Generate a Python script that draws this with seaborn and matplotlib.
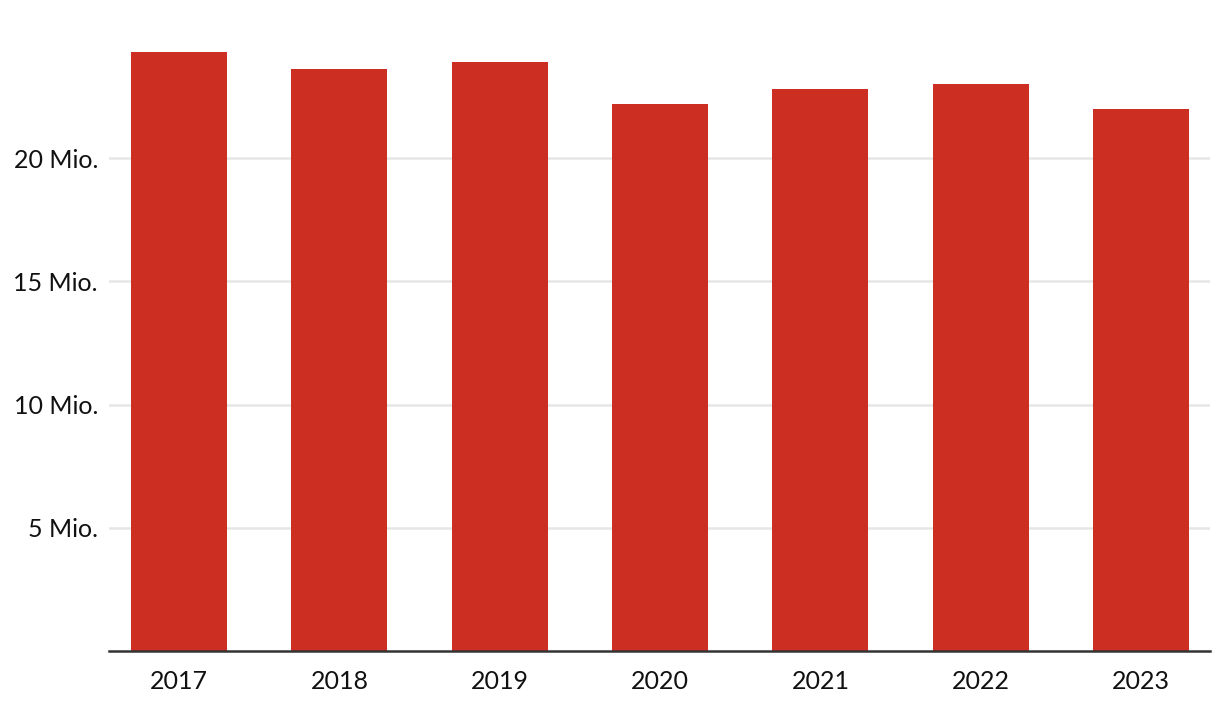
import matplotlib
matplotlib.use("Agg")
import matplotlib.pyplot as plt
import seaborn as sns
import pandas as pd
from matplotlib.ticker import FixedLocator

# Werte (Mio.)
jahre = ["2017", "2018", "2019", "2020", "2021", "2022", "2023"]
werte = [24.3, 23.6, 23.9, 22.2, 22.8, 23.0, 22.0]
y_ticks = [5, 10, 15, 20]
y_labels = ["5 Mio.", "10 Mio.", "15 Mio.", "20 Mio."]

df = pd.DataFrame({"Jahr": jahre, "Wert": werte})

sns.set_style("white")
plt.rcParams["font.family"] = ["Lato", "DejaVu Sans"]

fig = plt.figure(figsize=(12.2, 7.12), dpi=100)
ax = fig.add_axes([109 / 1220, 61 / 712, 1101 / 1220, 616 / 712])

sns.barplot(data=df, x="Jahr", y="Wert", color="#cc2e22", width=0.6,
            saturation=1, linewidth=0, edgecolor="none", ax=ax, zorder=3)

ax.set_xlim(-0.437, 6.43)
ax.set_ylim(0, 25)
ax.yaxis.set_major_locator(FixedLocator(y_ticks))
ax.set_yticklabels(y_labels)
ax.grid(axis="y", color="#e6e6e6", linewidth=1.8, zorder=0)
ax.set_axisbelow(True)

for s in ["top", "right", "left"]:
    ax.spines[s].set_visible(False)
ax.spines["bottom"].set_color("#333333")
ax.spines["bottom"].set_linewidth(1.8)
ax.spines["bottom"].set_zorder(5)

ax.set_xlabel("")
ax.set_ylabel("")
ax.tick_params(axis="both", length=0, labelsize=18, colors="#111111")
ax.tick_params(axis="y", pad=8)
ax.tick_params(axis="x", pad=14)

fig.savefig("out.png", dpi=100, facecolor="white")
